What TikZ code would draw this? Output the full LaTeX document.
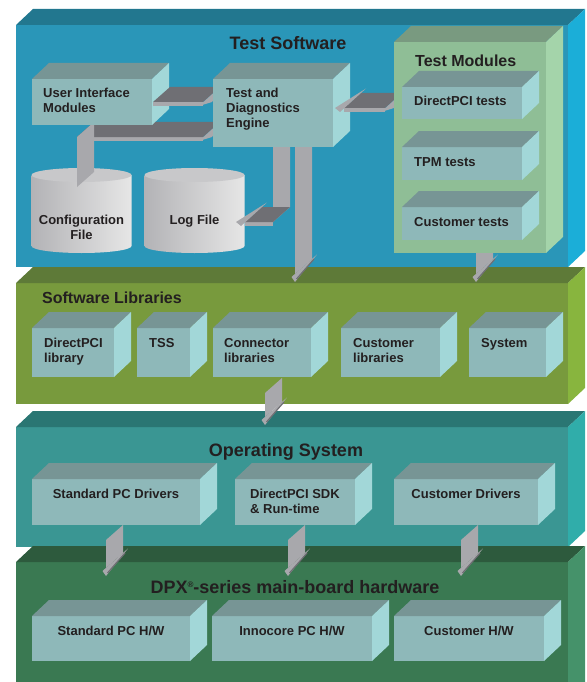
\documentclass[tikz,border=0pt]{standalone}
\usepackage{fontspec}
\setmainfont{Liberation Sans}
\usetikzlibrary{calc,positioning}

\definecolor{ink}{HTML}{231F20}
\definecolor{softfront}{HTML}{2A96B8}
\definecolor{softtop}{HTML}{22778F}
\definecolor{softside}{HTML}{1BAED8}
\definecolor{libsfront}{HTML}{789A3D}
\definecolor{libstop}{HTML}{5E7A38}
\definecolor{libsside}{HTML}{88B53E}
\definecolor{osfront}{HTML}{3A9693}
\definecolor{ostop}{HTML}{2A7673}
\definecolor{osside}{HTML}{30ADAA}
\definecolor{hwfront}{HTML}{3A7952}
\definecolor{hwtop}{HTML}{2D5A3D}
\definecolor{hwside}{HTML}{45926A}
\definecolor{cubefront}{HTML}{8EB8B9}
\definecolor{cubetop}{HTML}{779595}
\definecolor{cubeside}{HTML}{A2D7D8}
\definecolor{tmfront}{HTML}{8FBE96}
\definecolor{tmtop}{HTML}{799A80}
\definecolor{tmside}{HTML}{A4D4AA}
\definecolor{arrowlight}{HTML}{A8A8AC}
\definecolor{arrowdark}{HTML}{6F6F74}
\definecolor{drumdark}{HTML}{B3B3B6}
\definecolor{drumlight}{HTML}{E6E6E6}
\definecolor{drumlid}{HTML}{C8C8CA}

\pgfdeclarelayer{base}
\pgfdeclarelayer{under}
\pgfdeclarelayer{mid}
\pgfdeclarelayer{dbl}
\pgfdeclarelayer{top}
\pgfsetlayers{base,under,mid,main,dbl,top}

\newcommand{\boxfont}{\fontsize{13}{15}\selectfont\bfseries}
\newcommand{\subfont}{\fontsize{16}{19}\selectfont\bfseries}
\newcommand{\titlefont}{\fontsize{18}{21}\selectfont\bfseries}

\tikzset{
  face/.style={inner sep=0pt, outer sep=0pt, anchor=north west},
  slab/.style={face, fill=#1},
  cube/.style={face, fill=cubefront},
  boxtext/.style={anchor=north west, inner sep=0pt, align=left, xshift=12pt, yshift=-10pt, text=ink, font=\boxfont},
  boxtextc/.style={anchor=north, inner sep=0pt, align=left, yshift=-10pt, text=ink, font=\boxfont},
  heading/.style={inner sep=0pt, text=ink, font=\titlefont},
  drumtext/.style={anchor=north, inner sep=0pt, align=center, text=ink, font=\boxfont},
  shaft/.style={fill=arrowlight},
  shafttop/.style={fill=arrowdark},
}

% top and right faces of a box
\newcommand{\faces}[3]{%
  \fill[#2] (#1.north west) -- ++(17,-16) -- ($(#1.north east)+(17,-16)$) -- (#1.north east) -- cycle;
  \fill[#3] (#1.north east) -- ++(17,-16) -- ($(#1.south east)+(17,-16)$) -- (#1.south east) -- cycle;
}
% small box: name, corner, width, height, label
\newcommand{\cube}[5]{%
  \node[cube, minimum width=#3pt, minimum height=#4pt, #5] (#1) at #2 {};
  \faces{#1}{cubetop}{cubeside}
}
% file drum: name, top centre, text
\newcommand{\drum}[3]{%
  \coordinate (#1) at #2;
  \shade[left color=drumdark, right color=drumlight] ($(#1)+(-50,0)$) -- ++(0,71)
    arc[start angle=180, end angle=360, x radius=50pt, y radius=7pt] -- ($(#1)+(50,0)$) -- cycle;
  \fill[drumlid] (#1) ellipse [x radius=50pt, y radius=7pt];
  \node[drumtext] (#1label) at ($(#1)+(0,40)$) {#3};
}
% grey ribbon going down, from #1 to the height of #2
\newcommand{\vshaft}[2]{%
  \path #1 coordinate (sA) #2 coordinate (sE);
  \path (sA |- sE) coordinate (sB);
  \fill[shaft] (sA) -- ++(17,-15) -- ($(sB)+(17,-15)$) -- (sB) -- cycle;
}
\newcommand{\headdown}{%
  \fill[shaft] ($(sB)+(-3.5,3)$) -- ($(sB)+(22,-19.5)$) -- ($(sB)+(0,8)$) -- cycle;
  \draw[arrowdark, line width=1.2pt] ($(sB)+(19,-15)$) -- ($(sB)+(1.5,5)$);
}
% grey band lying flat, from #1 to the x of #2
\newcommand{\hband}[2]{%
  \path #1 coordinate (bA) #2 coordinate (bE);
  \path (bE |- bA) coordinate (bB);
  \fill[shaft] (bA) -- (bB) -- ($(bB)+(0,4)$) -- ($(bA)+(0,4)$) -- cycle;
  \fill[shafttop] (bA) -- (bB) -- ($(bB)+(17,-15)$) -- ($(bA)+(17,-15)$) -- cycle;
}
\newcommand{\headright}[1]{%
  \fill[shaft] ($#1+(-4,4)$) -- ($#1+(22,-19.5)$) -- ($#1+(9,0)$) -- cycle;}
\newcommand{\headleft}[1]{%
  \fill[shaft] ($#1+(-4,4)$) -- ($#1+(22,-19.5)$) -- ($#1+(-9,0)$) -- cycle;}

\begin{document}
\begin{tikzpicture}[x=1pt, y=-1pt]
\useasboundingbox (0,0) rectangle (586,682);

\begin{pgfonlayer}{base}
% Layers of the stack
\node[slab=softfront, minimum width=552pt, minimum height=242pt] (soft) at (16,25) {};
\faces{soft}{softtop}{softside}
\node[slab=libsfront, minimum width=552pt, minimum height=121pt] (libs) at (16,283) {};
\faces{libs}{libstop}{libsside}
\node[slab=osfront, minimum width=552pt, minimum height=120pt] (os) at (16,427) {};
\faces{os}{ostop}{osside}
\node[slab=hwfront, minimum width=552pt, minimum height=140pt] (hw) at (16,562) {};
\faces{hw}{hwtop}{hwside}

% Headings
\node[heading, anchor=north] (softname) at ($(soft.north)+(-4,11)$) {Test Software};
\node[heading, anchor=north west, font=\subfont] (libsname) at ($(libs.north west)+(26,9)$) {Software Libraries};
\node[heading, anchor=north] (osname) at ($(os.north)+(-6,16)$) {Operating System};
\node[heading, anchor=north] (hwname) at ($(hw.north)+(3,18)$) {DPX\raisebox{6pt}{\fontsize{8}{8}\selectfont\textregistered}-series main-board hardware};

% Files
\drum{cfg}{(81.5,175)}{Configuration\\File}
\drum{log}{(194.5,175)}{Log File}
\end{pgfonlayer}

% Test software
\cube{eng}{(213,79)}{120}{68}{label={[boxtext, xshift=1pt, yshift=1pt]north west:Test and\\Diagnostics\\Engine}}

\begin{pgfonlayer}{top}
\node[face, fill=tmfront, minimum width=152pt, minimum height=211pt] (tm) at (394,42) {};
\faces{tm}{tmtop}{tmside}
\node[heading, anchor=north west, font=\subfont] (tmname) at ($(tm.north west)+(21,13)$) {Test Modules};
\cube{tdpci}{(402,87)}{120}{32}{label={[boxtext, yshift=1pt]north west:DirectPCI tests}}
\cube{ttpm}{(402,147)}{120}{33}{label={[boxtext]north west:TPM tests}}
\cube{tcust}{(402,207)}{120}{33}{label={[boxtext]north west:Customer tests}}
\end{pgfonlayer}

% Software libraries
\cube{ldpci}{(32,328)}{82}{49}{label={[boxtext]north west:DirectPCI\\library}}
\cube{ltss}{(137,328)}{53}{49}{label={[boxtext]north west:TSS}}
\cube{lconn}{(213,328)}{98}{49}{label={[boxtext, xshift=-1pt]north west:Connector\\libraries}}
\cube{lcust}{(341,328)}{99}{49}{label={[boxtext]north west:Customer\\libraries}}
\cube{lsys}{(469,328)}{77}{49}{label={[boxtext]north west:System}}

% Operating system
\cube{dstd}{(32,479)}{168}{46}{label={[boxtextc]north:Standard PC Drivers}}
\cube{dsdk}{(235,479)}{120}{46}{label={[boxtextc]north:DirectPCI SDK\\\& Run-time}}
\cube{dcust}{(394,479)}{144}{46}{label={[boxtextc]north:Customer Drivers}}

% Hardware
\cube{hstd}{(32,616)}{158}{45}{label={[boxtextc]north:Standard PC H/W}}
\cube{hinno}{(212,616)}{160}{45}{label={[boxtextc]north:Innocore PC H/W}}
\cube{hcust}{(394,616)}{150}{45}{label={[boxtextc]north:Customer H/W}}

\begin{pgfonlayer}{under}
% configuration file -> engine
\hband{($(cfg)+(-4.5,-38)$)}{($(eng.west)+(-10,0)$)}
\headright{(bB)}
\vshaft{($(cfg)+(-4.5,-38)$)}{($(cfg)+(0,12)$)}
% engine -> log file
\vshaft{($(eng.south west)+(60,0)$)}{($(log)+(0,47)$)}
\hband{(sB)}{($(log)+(50.5,0)$)}
\headleft{(bB)}
% down to the libraries
\vshaft{($(eng.south west)+(82,0)$)}{($(libs.north)+(0,-9)$)}
\headdown
\vshaft{($(tm.south west)+(82,0)$)}{($(libs.north)+(0,-9)$)}
\headdown
% down to the operating system
\vshaft{($(lconn.south west)+(52,16)$)}{($(os.north)+(0,-10)$)}
\headdown
% down to the hardware
\vshaft{($(dstd.south west)+(74,15)$)}{($(hw.north)+(0,6)$)}
\headdown
\vshaft{($(dsdk.south west)+(53,15)$)}{($(hw.north)+(0,6)$)}
\headdown
\vshaft{($(dcust.south west)+(67,15)$)}{($(hw.north)+(0,6)$)}
\headdown
% user interface box sits on the band
\cube{ui}{(32,79)}{120}{46}{label={[boxtext, xshift=-1pt, yshift=1pt]north west:User Interface\\Modules}}
\end{pgfonlayer}

\begin{pgfonlayer}{mid}
% user interface -> engine
\hband{($(ui.south east)+(1,-23)$)}{($(eng.west)+(-10,0)$)}
\headright{(bB)}
\end{pgfonlayer}

\begin{pgfonlayer}{dbl}
% engine <-> test modules
\hband{($(eng.north east)+(11,29)$)}{($(tm.west)+(-9,0)$)}
\headleft{(bA)}
\headright{(bB)}
\end{pgfonlayer}

\end{tikzpicture}
\end{document}
